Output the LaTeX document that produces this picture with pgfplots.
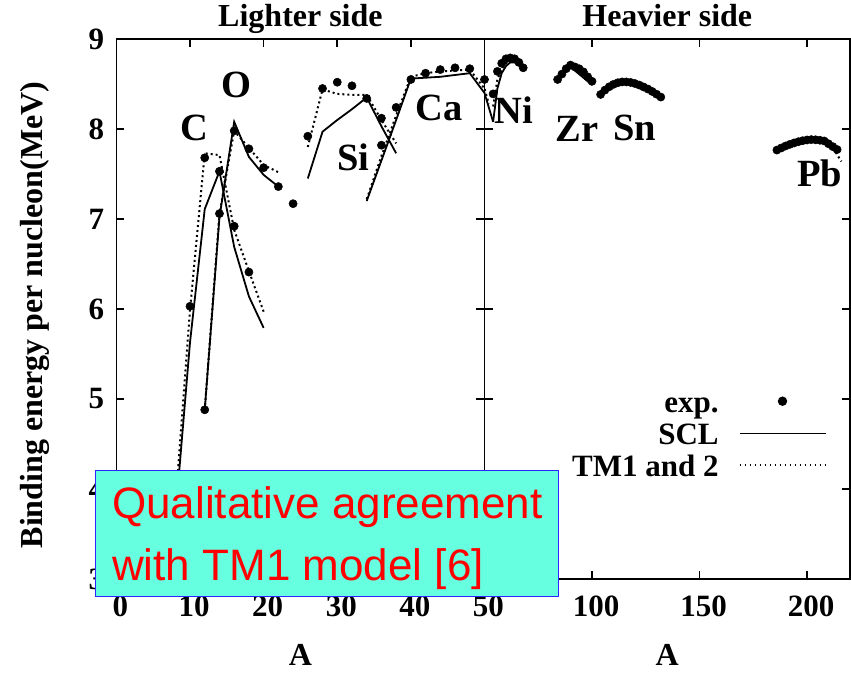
\documentclass[border=0pt]{standalone}
\usepackage{pgfplots}
\pgfplotsset{compat=1.18}
\usepackage{fontspec}
\setmainfont{Liberation Serif}
\newfontfamily\boxfont{Liberation Sans}
\definecolor{boxfill}{RGB}{102,255,224}
\definecolor{boxedge}{RGB}{40,40,255}

\newcommand\tickfont{\bfseries\fontsize{31}{31}\selectfont}
\newcommand\labfont{\bfseries\fontsize{32}{32}\selectfont}
\newcommand\elfont{\bfseries\fontsize{38.5}{38.5}\selectfont}

\tikzset{el/.style={font=\elfont, inner sep=0pt}}

\pgfplotsset{
  binding/.style={
    scale only axis, height=540pt, ymin=3, ymax=9, ytick={3,...,9},
    line width=1.7pt,
    tick align=inside, major tick length=8pt,
    axis line style={line width=1.7pt},
    every tick/.style={black, line width=1.7pt},
    tick label style={font=\tickfont},
    /pgf/number format/assume math mode=true,
    xticklabel style={yshift=-13pt, xshift=4pt},
    yticklabel style={xshift=-8pt},
    title style={at={(axis description cs:0.5,1)}, anchor=base, yshift=6pt, font=\labfont},
    xlabel style={at={(axis description cs:0.5,0)}, anchor=base, yshift=-86pt, font=\labfont},
  },
  exp/.style={only marks, mark=*, mark size=4.1pt, black, mark options={solid, fill=black, line width=0.5pt}, forget plot},
  scl/.style={black, line width=1.8pt, mark=none, forget plot},
  tm/.style={black, line width=2pt, dash pattern=on 2pt off 3pt, mark=none, forget plot},
  legdot/.style={legend image code/.code={\draw[##1] plot coordinates {(43pt,5.5pt)};}},
  legline/.style={legend image code/.code={\draw[##1] (0pt,5pt) -- (86pt,5pt);}},
}

\begin{document}
\begin{tikzpicture}
\useasboundingbox (-116.4pt,-93pt) rectangle (734.6pt,579pt);

% ---------------- light nuclei ----------------
\begin{axis}[binding, width=368.1pt, at={(0pt,0pt)}, anchor=south west,
  xmin=0, xmax=50, xtick={0,10,...,50},
  title={Lighter side}, xlabel={A},
  ylabel={Binding energy per nucleon(MeV)},
  ylabel style={at={(axis description cs:-0.2021,0.4889)}, anchor=base, font=\labfont},
]
% measured values
\addplot[exp] coordinates {
  (10,6.03)(12,7.68)(14,7.53)(16,6.92)(18,6.41)
  (12,4.88)(14,7.06)(16,7.98)(18,7.78)(20,7.57)(22,7.36)(24,7.17)
  (26,7.92)(28,8.45)(30,8.52)(32,8.48)(34,8.34)(36,8.12)
  (36,7.82)(38,8.24)(40,8.55)(42,8.62)(44,8.66)(46,8.68)(48,8.67)(50,8.55)};
% carbon
\addplot[scl] coordinates {(8,3.68)(10,5.63)(12,7.11)(14,7.53)(16,6.69)(18,6.14)(20,5.79)};
\addplot[tm]  coordinates {(8,3.81)(10,5.99)(12,7.73)(14,7.71)(16,6.88)(18,6.42)(20,5.97)};
% oxygen
\addplot[scl] coordinates {(12,4.88)(14,7.02)(16,8.08)(18,7.69)(20,7.49)(22,7.36)};
\addplot[tm]  coordinates {(12,4.88)(14,7.06)(16,7.98)(18,7.79)(20,7.60)(22,7.52)};
% silicon
\addplot[scl] coordinates {(26,7.45)(28,7.97)(30,8.10)(32,8.22)(34,8.35)(36,8.03)(38,7.73)};
\addplot[tm]  coordinates {(26,7.80)(28,8.44)(30,8.39)(32,8.38)(34,8.38)(36,8.10)(38,7.84)};
% calcium
\addplot[scl] coordinates {(34,7.20)(36,7.65)(38,8.10)(40,8.56)(42,8.57)(44,8.58)(46,8.60)(48,8.62)(50,8.40)(52,8.24)};
\addplot[tm]  coordinates {(34,7.22)(36,7.70)(38,8.15)(40,8.58)(42,8.62)(44,8.64)(46,8.65)(48,8.66)(50,8.45)(52,8.28)};

\node[el] at (axis cs:10.54,8.01) {C};
\node[el] at (axis cs:16.25,8.49) {O};
\node[el] at (axis cs:32.15,7.69) {Si};
\node[el] at (axis cs:43.83,8.23) {Ca};
\end{axis}

% ---------------- heavy nuclei ----------------
\begin{axis}[binding, width=365.5pt, at={(368.1pt,0pt)}, anchor=south west,
  xmin=50, xmax=220, xtick={100,150,200}, yticklabels={},
  title={Heavier side}, xlabel={A},
  legend style={draw=none, fill=none, at={(0.946,0.3537)}, anchor=north east,
    font=\tickfont, row sep=0pt, column sep=20pt,
    nodes={inner sep=0pt, text height=22pt, text depth=9.7pt}},
  legend cell align=right, legend plot pos=right,
]
\addlegendimage{only marks, mark=*, mark size=3.8pt, black, legdot}
\addlegendentry{exp.}
\addlegendimage{black, line width=1.8pt, legline}
\addlegendentry{SCL}
\addlegendimage{black, line width=1.6pt, dash pattern=on 1.6pt off 3.4pt, legline}
\addlegendentry{TM1 and 2}

% calcium tail
\addplot[scl] coordinates {(48,8.62)(50,8.40)(52,8.24)(54,8.08)};
\addplot[tm]  coordinates {(48,8.66)(50,8.45)(52,8.28)};
% nickel
\addplot[scl] coordinates {(54,8.08)(56,8.45)(58,8.62)(60,8.70)(62,8.74)(64,8.74)(66,8.71)(68,8.66)};
\addplot[tm]  coordinates {(54,8.25)(56,8.55)(58,8.67)(60,8.73)(62,8.76)(64,8.75)(66,8.72)(68,8.67)};
% zirconium
\addplot[scl] coordinates {(84,8.53)(86,8.60)(88,8.66)(90,8.70)(92,8.65)(94,8.61)(96,8.57)(98,8.53)(100,8.49)};
\addplot[tm]  coordinates {(84,8.54)(86,8.61)(88,8.67)(90,8.71)(92,8.67)(94,8.63)(96,8.59)(98,8.55)(100,8.50)};
% tin
\addplot[scl] coordinates {(104,8.38)(108,8.46)(112,8.51)(116,8.52)(120,8.50)(124,8.46)(128,8.41)(132,8.35)};
\addplot[tm]  coordinates {(104,8.38)(108,8.47)(112,8.51)(116,8.52)(120,8.50)(124,8.46)(128,8.41)(132,8.35)};
% lead
\addplot[scl] coordinates {(186,7.77)(192,7.83)(198,7.87)(204,7.88)(208,7.86)(214,7.76)};
\addplot[tm]  coordinates {(186,7.77)(192,7.83)(198,7.87)(204,7.88)(208,7.86)(212,7.79)(216,7.64)};
% measured values
\addplot[exp] coordinates {
  (54,8.39)(56,8.64)(58,8.73)(60,8.78)(62,8.79)(64,8.78)(66,8.74)(68,8.68)
  (84,8.55)(86,8.61)(88,8.67)(90,8.71)(92,8.69)(94,8.67)(96,8.635)(98,8.58)(100,8.53)
  (104,8.384)(106,8.432)(108,8.469)(110,8.496)(112,8.514)(114,8.523)(116,8.523)(118,8.517)
  (120,8.505)(122,8.488)(124,8.467)(126,8.444)(128,8.417)(130,8.387)(132,8.355)
  (186,7.766)(188,7.789)(190,7.811)(192,7.829)(194,7.845)(196,7.859)(198,7.870)(200,7.878)
  (202,7.882)(204,7.880)(206,7.875)(208,7.867)(210,7.836)(212,7.804)(214,7.772)};

\node[el] at (axis cs:63.7,8.21) {Ni};
\node[el] at (axis cs:93.0,8.00) {Zr};
\node[el] at (axis cs:120.0,8.01) {Sn};
\node[el] at (axis cs:206.0,7.51) {Pb};
\end{axis}

% note box
\draw[draw=boxedge, fill=boxfill, line width=1pt] (-20.4pt,-17pt) rectangle (441.6pt,109pt);
\node[anchor=base west, inner sep=0pt, text=red, font=\boxfont\fontsize{44}{44}\selectfont]
  at (-4.4pt,61pt) {Qualitative agreement};
\node[anchor=base west, inner sep=0pt, text=red, font=\boxfont\fontsize{44}{44}\selectfont]
  at (-4.4pt,-1pt) {with TM1 model [6]};
\end{tikzpicture}
\end{document}
